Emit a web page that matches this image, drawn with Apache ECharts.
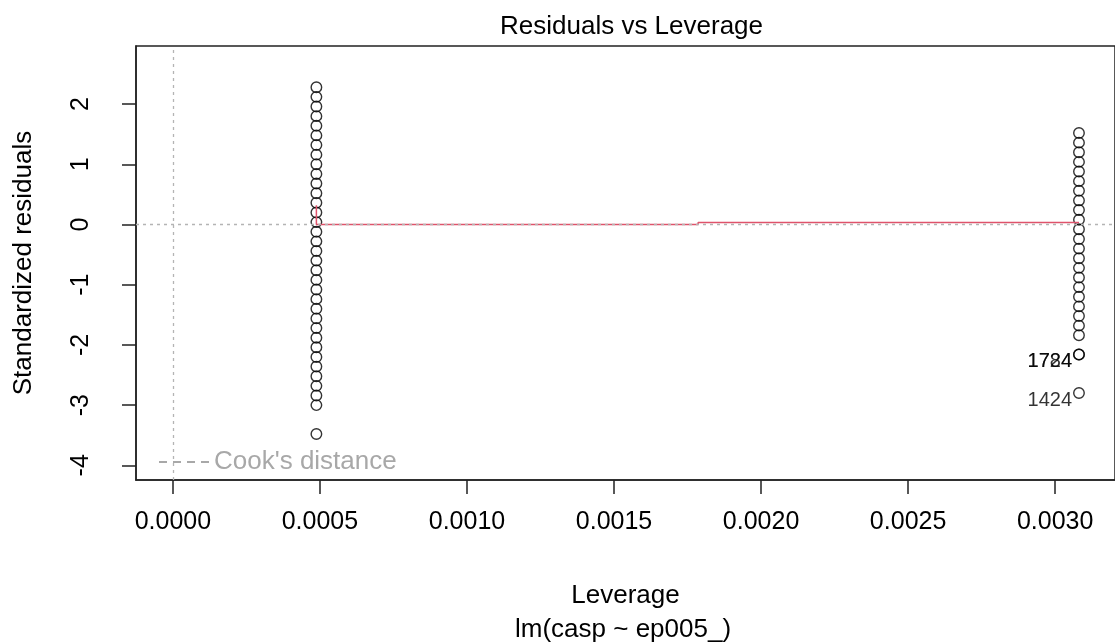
<!DOCTYPE html>
<html>
<head>
<meta charset="utf-8">
<script src="https://cdn.jsdelivr.net/npm/echarts@6/dist/echarts.min.js"></script>
<style>
html,body{margin:0;padding:0;background:#fff;}
#chart{width:1115px;height:644px;}
</style>
</head>
<body>
<div id="chart"></div>
<script>
// ---- data ----
const leverageLeft = 0.000488;
const leverageRight = 0.003081;
const residLeft = [2.28, 2.12, 1.96, 1.80, 1.64, 1.48, 1.32, 1.16, 1.00, 0.84, 0.68, 0.52,
  0.36, 0.20, 0.04, -0.12, -0.28, -0.44, -0.60, -0.76, -0.92, -1.08, -1.24, -1.40,
  -1.56, -1.72, -1.88, -2.04, -2.20, -2.36, -2.52, -2.68, -2.84, -3.00, -3.48];
const residRight = [1.52, 1.36, 1.20, 1.04, 0.88, 0.72, 0.56, 0.40, 0.24, 0.08, -0.08,
  -0.24, -0.40, -0.56, -0.72, -0.88, -1.04, -1.20, -1.36, -1.52, -1.68, -1.84];
const labeledIds = ['1724', '1784', '1424'];
const labeledResid = [-2.16, -2.16, -2.80];
const smoothX = [0.000488, 0.000488, 0.001786, 0.001786, 0.003081];
const smoothY = [0.32, 0.0, 0.0, 0.035, 0.035];
const xTicks = [0, 0.0005, 0.0010, 0.0015, 0.0020, 0.0025, 0.0030];
const yTicks = [-4, -3, -2, -1, 0, 1, 2];
const xRange = [-0.0001254, 0.0032035];
const yRange = [-4.244, 2.965];

const FONT = "'Liberation Sans', Arial, sans-serif";

const ptsLeft = residLeft.map(r => [leverageLeft, r]);
const ptsRight = residRight.map(r => [leverageRight, r]);
const ptsLabeled = labeledResid.map((r, i) => ({ value: [leverageRight, r], name: labeledIds[i] }));
const smoothData = smoothX.map((x, i) => [x, smoothY[i]]);

const circleStyle = { color: 'rgba(0,0,0,0)', borderColor: '#000', borderWidth: 1.4 };
const SYM = 10.5;

const chart = echarts.init(document.getElementById('chart'), null, { renderer: 'canvas' });
chart.setOption({
  animation: false,
  backgroundColor: '#fff',
  textStyle: { fontFamily: FONT },
  title: [
    { text: 'Residuals vs Leverage', left: 495, top: 9,
      textStyle: { fontFamily: FONT, fontSize: 26, fontWeight: 'normal', color: '#000' } },
    { text: 'lm(casp ~ ep005_)', left: 510, top: 612,
      textStyle: { fontFamily: FONT, fontSize: 26, fontWeight: 'normal', color: '#000' } }
  ],
  legend: {
    left: 159, top: 449, padding: 0, itemWidth: 50, itemHeight: 2,
    data: [{ name: "Cook's distance",
             icon: 'path://M0,0h8v2h-8z M14,0h8v2h-8z M28,0h8v2h-8z M42,0h8v2h-8z' }],
    textStyle: { fontFamily: FONT, fontSize: 26, color: '#a8a8a8' },
    selectedMode: false
  },
  grid: { left: 136, top: 46, right: -3, bottom: 164, show: true,
          borderColor: '#222', borderWidth: 1.5, backgroundColor: 'transparent' },
  xAxis: {
    type: 'value', min: xRange[0], max: xRange[1],
    name: 'Leverage', nameLocation: 'middle', nameGap: 103,
    nameTextStyle: { fontFamily: FONT, fontSize: 26, color: '#000' },
    axisLine: { show: true, onZero: false, lineStyle: { color: '#222', width: 1.5 } },
    axisTick: { show: true, length: 14, lineStyle: { color: '#222', width: 1.5 }, customValues: xTicks },
    axisLabel: { show: true, margin: 30, fontSize: 25, color: '#000', fontFamily: FONT,
                 customValues: xTicks, formatter: v => Number(v).toFixed(4) },
    splitLine: { show: false }
  },
  yAxis: {
    type: 'value', min: yRange[0], max: yRange[1],
    name: 'Standardized residuals', nameLocation: 'middle', nameGap: 99, nameRotate: 90,
    nameTextStyle: { fontFamily: FONT, fontSize: 26, color: '#000' },
    axisLine: { show: true, onZero: false, lineStyle: { color: '#222', width: 1.5 } },
    axisTick: { show: true, length: 14, lineStyle: { color: '#222', width: 1.5 }, customValues: yTicks },
    axisLabel: { show: true, margin: 42, rotate: 90, fontSize: 25, color: '#000', fontFamily: FONT,
                 customValues: yTicks, formatter: v => String(v) },
    splitLine: { show: false }
  },
  series: [
    { type: 'scatter', data: ptsLeft, symbol: 'circle', symbolSize: SYM, itemStyle: circleStyle, z: 2, silent: true },
    { type: 'scatter', data: ptsRight, symbol: 'circle', symbolSize: SYM, itemStyle: circleStyle, z: 2, silent: true },
    { type: 'scatter', data: ptsLabeled, symbol: 'circle', symbolSize: SYM, itemStyle: circleStyle, z: 2, silent: true,
      label: { show: true, position: 'left', distance: 1, offset: [0, 7], formatter: p => p.name,
               fontFamily: FONT, fontSize: 20, color: '#000', textBorderWidth: 0 } },
    { type: 'line', data: smoothData, symbol: 'none', z: 3, silent: true,
      lineStyle: { color: '#DF536B', width: 1.5 } },
    { type: 'line', data: [], symbol: 'none', z: 4, silent: true,
      markLine: { symbol: 'none', silent: true, label: { show: false },
        lineStyle: { type: [3, 4], color: '#b4b4b4', width: 1.3 },
        data: [{ yAxis: 0 }, { xAxis: 0 }] } },
    { type: 'line', name: "Cook's distance", data: [], symbol: 'none', z: 4, silent: true,
      itemStyle: { color: '#a8a8a8' },
      lineStyle: { type: [8, 4], color: '#a8a8a8', width: 1.5 } }
  ]
});
</script>
</body>
</html>
